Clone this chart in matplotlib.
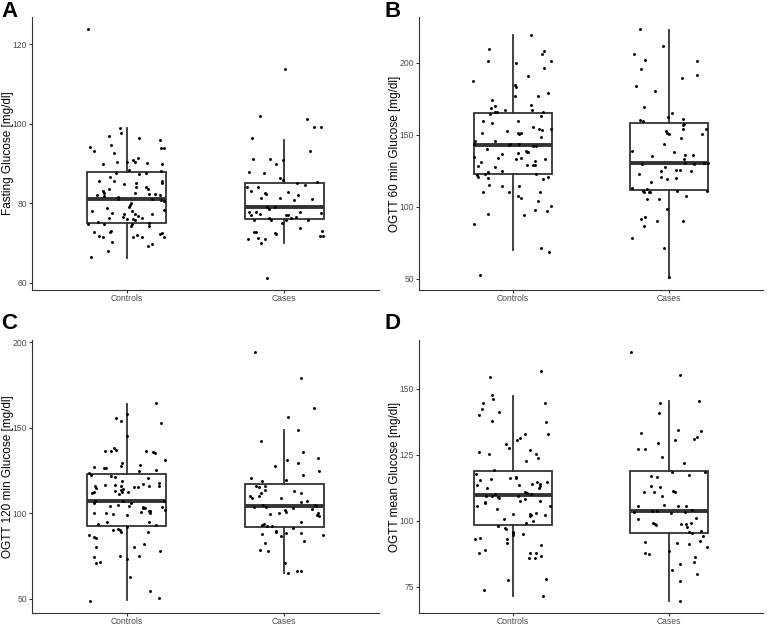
import matplotlib
matplotlib.use("Agg")
import matplotlib.pyplot as plt
import numpy as np

groups = ["Controls", "Cases"]

# ---------- Panel A: Fasting Glucose ----------
a_ctrl_val = [123.8,94.3,93.3,99.0,97.8,96.9,94.8,92.7,90.3,89.9,96.4,96.0,94.0,94.0,91.0,90.4,91.3,90.3,90.1,89.8,
              88.3,87.4,87.7,88.2,87.6,86.7,85.7,85.7,85.7,85.0,84.8,85.1,84.2,84.0,83.7,83.7,83.1,82.5,82.6,82.3,
              82.3,82.0,82.0,81.9,81.5,81.1,81.1,80.8,80.6,80.0,79.6,79.2,78.9,78.1,78.3,78.0,77.5,77.4,77.2,77.3,
              76.6,76.8,76.2,76.0,76.0,75.8,76.4,75.3,74.9,74.8,74.9,75.1,74.2,74.2,72.8,72.8,73.0,72.5,72.3,71.8,
              71.6,71.4,71.9,71.4,71.4,70.3,69.3,69.7,67.9,66.4]
a_ctrl_jit = [-0.245,-0.23,-0.205,-0.04,-0.034,-0.114,-0.10,-0.08,-0.06,-0.15,0.08,0.21,0.215,0.24,0.04,0.055,0.07,0.004,0.13,0.226,
              0.013,0.076,0.12,0.22,-0.07,-0.105,-0.078,-0.173,0.226,0.224,-0.017,0.06,0.06,0.12,0.137,-0.114,-0.15,-0.144,0.055,0.14,
              0.18,0.21,-0.19,-0.146,-0.053,-0.053,0.158,0.22,0.236,0.03,0.02,0.017,-0.127,-0.217,0.24,0.036,-0.095,-0.017,0.055,0.16,
              -0.023,0.074,-0.112,0.0,0.042,0.05,0.1,-0.18,-0.146,-0.245,0.034,0.14,0.025,0.14,-0.205,-0.105,-0.097,0.224,0.21,-0.177,
              -0.15,0.042,0.068,0.097,0.24,-0.093,0.133,0.16,-0.118,-0.228]
a_case_val = [113.8,102.1,101.2,99.3,99.3,96.4,93.3,91.1,91.1,90.9,89.9,88.0,87.7,86.4,85.9,85.2,85.3,84.7,84.0,84.2,
              83.0,82.9,82.5,82.3,82.0,81.3,81.3,80.8,81.0,79.1,79.1,78.5,77.8,77.9,77.1,77.4,77.1,77.0,77.7,77.6,
              76.5,76.3,76.2,75.8,75.9,75.9,75.1,75.8,73.8,72.8,72.8,72.6,72.3,73.1,71.7,71.8,71.0,71.2,71.0,70.0,61.3]
a_case_jit = [0.002,-0.156,0.146,0.186,0.23,-0.207,0.16,-0.2,-0.093,-0.008,-0.05,-0.226,-0.127,-0.03,-0.008,0.08,0.205,0.133,-0.236,-0.167,
              -0.209,0.02,-0.12,-0.116,0.084,-0.15,-0.025,0.06,0.177,-0.11,-0.06,-0.097,-0.226,-0.18,-0.21,-0.156,0.01,0.02,0.097,0.23,
              0.074,0.04,-0.097,-0.084,-0.19,0.013,-0.015,0.15,0.1,-0.19,-0.177,-0.06,-0.055,0.24,0.224,0.247,-0.23,-0.17,-0.12,-0.15,-0.11]
a_box = [dict(q1=75.1, med=81.0, q3=88.0, whislo=66.2, whishi=99.0),
         dict(q1=76.0, med=79.1, q3=85.0, whislo=70.1, whishi=96.0)]

# ---------- Panel B: OGTT 60 min ----------
b_ctrl_val = [52.3,87.7,94.6,71.3,68.7,187.5,209.5,201.2,219.4,208.3,205.8,200.9,196.1,199.5,190.5,184.3,183.1,179.2,177.1,177.1,
              174.3,170.9,169.7,168.8,167.2,167.0,164.4,165.6,165.6,165.8,163.0,159.8,159.8,158.2,155.4,154.2,153.1,154.0,152.6,151.2,
              151.2,151.2,150.3,148.2,145.7,145.9,143.8,143.8,143.1,143.4,142.0,142.0,140.1,138.3,137.6,137.6,136.9,136.4,134.1,134.4,
              134.1,133.2,133.0,131.8,130.7,128.4,127.2,128.8,128.8,128.6,124.9,124.0,123.0,123.0,122.3,120.7,120.7,119.8,119.1,114.3,
              114.0,114.7,110.3,109.9,109.9,107.3,105.9,103.9,100.2,97.4,97.2,94.2]
b_ctrl_jit = [-0.21,-0.25,-0.156,0.18,0.233,-0.254,-0.152,-0.159,0.114,0.2,0.186,0.243,0.197,0.023,0.095,0.017,0.023,0.226,0.013,0.159,
              -0.135,0.118,-0.116,-0.142,0.125,-0.047,-0.148,-0.114,-0.1,0.195,0.178,-0.19,0.032,-0.131,0.127,0.17,0.186,0.247,-0.036,-0.197,
              0.032,0.055,0.042,0.18,-0.243,-0.112,-0.25,-0.015,-0.023,0.042,0.131,0.146,-0.163,0.085,0.091,0.095,0.03,-0.066,-0.097,-0.25,
              0.055,0.021,0.203,0.14,-0.205,-0.224,-0.112,0.093,0.127,0.142,-0.066,-0.161,-0.175,0.146,-0.228,-0.22,0.224,-0.159,0.195,-0.068,
              0.042,-0.154,-0.19,-0.025,0.173,0.032,0.055,0.159,0.247,0.142,0.218,0.07]
b_case_val = [223.1,211.6,206.2,202.1,201.2,195.8,191.4,189.6,184.1,180.1,169.3,165.3,162.1,160.5,159.6,161.2,157.2,156.6,154.0,154.2,
              152.2,151.0,150.1,150.5,147.5,143.8,138.1,138.5,136.2,135.8,135.3,133.0,130.2,130.2,130.2,129.3,127.7,129.5,124.9,125.1,
              125.4,124.7,122.6,120.7,119.3,119.8,117.3,113.1,112.2,110.8,110.3,109.9,110.3,110.6,111.0,107.3,105.0,105.2,98.5,91.6,
              92.5,89.8,90.2,86.8,78.4,71.0,51.4]
b_case_jit = [-0.184,-0.038,-0.228,-0.154,0.18,-0.182,0.175,0.085,-0.215,-0.09,-0.158,0.02,-0.006,-0.186,-0.165,0.087,0.095,0.091,0.089,0.237,
              -0.021,-0.011,0.002,0.211,0.074,-0.036,0.03,-0.235,0.104,0.154,-0.112,0.093,0.224,0.247,0.102,-0.176,-0.027,0.156,-0.053,0.042,
              0.07,0.142,-0.19,-0.053,-0.011,0.044,-0.116,-0.235,-0.142,-0.169,-0.163,-0.131,-0.125,0.243,0.053,0.106,-0.144,-0.066,-0.011,-0.18,
              -0.154,-0.076,0.091,-0.161,-0.237,-0.032,-0.002]
b_box = [dict(q1=123.0, med=142.7, q3=165.3, whislo=69.7, whishi=219.0),
         dict(q1=111.3, med=130.2, q3=158.2, whislo=50.7, whishi=222.9)]

# ---------- Panel C: OGTT 120 min ----------
c_ctrl_val = [49.0,50.8,54.7,62.8,73.4,75.1,75.1,78.0,71.2,71.6,74.3,80.2,80.2,82.3,87.4,86.4,85.3,89.0,90.1,91.1,
              90.1,89.1,91.9,93.2,94.0,94.8,95.2,100.1,100.1,99.5,98.9,100.8,100.1,101.4,101.4,101.8,103.2,103.2,103.6,103.8,
              104.0,105.1,104.5,106.1,106.9,106.1,106.9,107.1,111.6,112.3,112.3,112.3,113.3,114.3,113.7,111.0,114.9,115.1,115.3,116.0,
              116.4,116.8,116.2,117.2,117.8,116.2,116.2,118.6,120.9,121.7,121.3,123.8,122.1,124.8,125.2,126.9,126.7,126.7,128.1,129.5,
              127.9,131.4,136.3,136.3,138.0,136.9,136.3,135.7,135.1,144.9,152.7,155.8,154.0,157.9,164.2]
c_ctrl_jit = [-0.232,0.203,0.146,0.019,0.0,-0.044,0.078,0.213,-0.196,-0.169,-0.205,-0.192,0.046,0.112,-0.24,-0.207,-0.196,0.133,-0.086,-0.055,
              -0.042,-0.038,0.0,0.186,-0.181,0.141,-0.122,-0.205,-0.131,-0.084,0.002,0.091,0.146,0.141,0.148,0.243,0.101,0.116,0.105,0.226,
              -0.105,-0.055,0.015,0.03,-0.203,-0.209,-0.021,0.238,-0.217,-0.207,-0.027,0.008,-0.074,-0.023,-0.034,-0.046,-0.194,0.049,0.074,-0.198,
              -0.137,-0.072,-0.038,0.103,0.207,0.203,0.141,-0.029,0.133,-0.101,-0.072,-0.24,-0.228,0.076,0.186,-0.207,-0.143,-0.131,0.084,-0.032,
              -0.038,0.243,-0.137,-0.101,-0.078,-0.065,0.124,0.167,0.179,0.004,0.215,-0.07,-0.038,0.002,0.184]
c_case_val = [194.0,178.8,161.8,156.2,148.8,142.3,135.9,132.4,131.2,129.5,127.5,124.8,122.1,120.9,119.5,119.0,116.0,116.0,115.4,113.9,
              113.3,111.6,111.6,110.0,109.2,110.0,109.0,107.3,106.7,105.1,104.3,104.7,103.8,103.8,103.0,102.6,102.2,100.8,100.4,100.4,
              99.1,98.3,99.3,95.2,94.0,93.4,92.5,92.3,91.5,89.9,89.0,88.6,88.2,88.0,87.6,86.6,84.1,82.7,78.8,78.0,
              71.0,65.2,66.0,66.0]
c_case_jit = [-0.186,0.108,0.186,0.021,0.086,-0.15,0.116,0.215,0.017,0.089,-0.057,0.222,0.12,-0.209,0.013,-0.142,-0.181,-0.12,-0.16,-0.124,
              0.063,0.103,-0.15,-0.217,-0.205,-0.16,-0.019,0.141,0.108,0.194,0.2,-0.137,-0.116,-0.194,0.053,0.175,0.004,0.011,0.213,-0.032,
              0.207,0.22,-0.093,0.108,-0.13,-0.143,-0.107,-0.078,0.057,-0.055,-0.051,0.011,0.105,-0.139,0.247,-0.019,0.127,-0.124,-0.156,-0.105,
              0.002,0.021,0.082,0.108]
c_box = [dict(q1=92.3, med=107.1, q3=122.7, whislo=49.4, whishi=163.8),
         dict(q1=91.9, med=104.0, q3=117.0, whislo=65.2, whishi=148.8)]

# ---------- Panel D: OGTT mean ----------
d_ctrl_val = [154.3,156.6,147.6,146.3,144.6,142.2,144.6,141.1,140.0,137.9,137.5,132.9,132.8,131.3,130.7,128.9,127.6,126.7,126.0,125.3,
              125.2,123.7,122.6,119.3,117.8,116.6,116.2,116.0,115.5,115.7,114.6,114.5,114.0,114.0,113.5,113.6,113.2,112.4,112.3,110.2,
              110.8,110.4,110.3,109.5,109.5,109.1,108.6,109.4,108.3,107.6,107.3,106.8,107.0,105.5,105.5,104.6,103.1,102.7,102.7,102.2,
              102.1,101.6,100.6,99.7,99.3,98.1,97.1,96.8,95.7,95.2,94.7,94.9,93.0,93.3,93.2,91.7,90.9,88.7,87.7,87.9,
              87.7,86.0,86.0,86.6,77.5,77.8,73.6,71.3]
d_ctrl_jit = [-0.144,0.182,-0.133,-0.125,-0.19,-0.197,0.205,-0.089,-0.216,-0.135,0.211,0.224,0.078,0.047,0.027,-0.042,-0.025,0.108,-0.214,-0.152,
              0.148,0.159,0.087,-0.121,-0.233,0.019,0.021,-0.015,-0.209,-0.142,0.22,0.154,0.121,0.175,-0.226,0.042,0.171,-0.165,0.167,-0.112,
              0.08,0.089,0.118,-0.173,-0.135,-0.095,-0.087,0.03,0.076,0.044,0.171,-0.18,-0.175,-0.23,0.237,-0.104,0.148,-0.002,0.11,0.118,
              0.203,0.112,-0.055,0.131,0.085,-0.093,-0.047,-0.044,0.002,0.004,0.002,0.066,-0.243,-0.207,-0.038,-0.036,0.182,-0.18,-0.214,0.108,
              0.146,0.101,0.144,0.178,-0.032,0.214,-0.182,0.19]
d_case_val = [163.8,155.3,144.6,145.3,140.8,134.3,133.9,133.3,131.9,130.8,130.5,129.4,127.0,127.2,124.1,121.7,118.5,118.6,117.5,116.9,
              116.4,113.1,112.8,111.0,110.8,111.2,111.0,109.5,106.1,105.6,105.6,105.6,103.3,103.6,103.6,102.8,103.2,104.0,101.2,100.8,
              99.3,98.9,98.5,98.9,98.9,99.2,95.6,95.4,96.0,97.5,94.2,92.3,92.0,91.4,91.2,89.9,88.4,87.8,87.4,86.4,
              84.2,83.7,81.2,79.6,77.3,69.7]
d_case_jit = [-0.245,0.07,-0.061,0.188,-0.068,0.057,0.205,-0.182,0.178,0.159,0.038,-0.07,-0.197,-0.156,-0.044,0.095,0.228,0.015,0.125,-0.114,
              -0.078,-0.116,-0.057,-0.161,-0.095,0.025,0.036,-0.049,-0.034,-0.201,0.055,0.11,-0.226,-0.11,-0.076,0.011,0.099,0.144,0.173,-0.201,
              -0.106,-0.089,-0.085,0.074,0.106,0.137,0.129,0.146,0.201,0.114,0.214,0.197,-0.152,0.049,0.129,0.245,0.0,-0.154,-0.131,0.163,
              0.156,0.072,0.017,0.175,0.068,0.066]
d_box = [dict(q1=98.5, med=109.7, q3=118.9, whislo=71.3, whishi=147.3),
         dict(q1=95.2, med=103.6, q3=118.9, whislo=69.7, whishi=145.2)]

panels = [
    ("A", "Fasting Glucose [mg/dl]", a_ctrl_val, a_ctrl_jit, a_case_val, a_case_jit, a_box, [60, 80, 100, 120]),
    ("B", "OGTT 60 min Glucose [mg/dl]", b_ctrl_val, b_ctrl_jit, b_case_val, b_case_jit, b_box, [50, 100, 150, 200]),
    ("C", "OGTT 120 min Glucose [mg/dl]", c_ctrl_val, c_ctrl_jit, c_case_val, c_case_jit, c_box, [50, 100, 150, 200]),
    ("D", "OGTT mean Glucose [mg/dl]", d_ctrl_val, d_ctrl_jit, d_case_val, d_case_jit, d_box, [75, 100, 125, 150]),
]

plt.rcParams['font.family'] = ['Liberation Sans', 'DejaVu Sans']

W, H = 768, 625
fig = plt.figure(figsize=(W / 100, H / 100), dpi=100)

# axes rectangles in pixels: left, top, right, bottom
rects = [(32, 17, 379, 290), (419, 17, 763, 290), (32, 340, 379, 613), (419, 340, 763, 613)]
letter_pos = [(1, 1), (385, 1), (1, 313), (385, 313)]

line_col = "#333333"
for (letter, ylab, cv, cj, sv, sj, box, yt), (l, t, r, b), (lx, ly) in zip(panels, rects, letter_pos):
    ax = fig.add_axes([l / W, 1 - b / H, (r - l) / W, (b - t) / H])
    stats = []
    for g, s in zip(groups, box):
        d = dict(s)
        d["label"] = g
        d["fliers"] = []
        stats.append(d)
    ax.bxp(stats, positions=[1, 2], widths=0.5, showcaps=False, showfliers=False,
           patch_artist=True,
           boxprops=dict(facecolor="white", edgecolor=line_col, linewidth=1.3),
           whiskerprops=dict(color=line_col, linewidth=1.3),
           medianprops=dict(color=line_col, linewidth=2.8, solid_capstyle="butt"),
           zorder=2)
    ax.scatter(1 + np.array(cj), cv, s=4.5, color="black", zorder=3, linewidths=0)
    ax.scatter(2 + np.array(sj), sv, s=4.5, color="black", zorder=3, linewidths=0)
    allv = cv + sv + [s["whislo"] for s in box] + [s["whishi"] for s in box]
    lo, hi = min(allv), max(allv)
    pad = (hi - lo) * 0.05
    ax.set_ylim(lo - pad, hi + pad)
    ax.set_xlim(0.4, 2.6)
    ax.set_xticks([1, 2])
    ax.set_xticklabels(groups)
    ax.set_yticks(yt)
    ax.set_ylabel(ylab, fontsize=8.5, color="black")
    ax.yaxis.set_label_coords(-18.0 / (r - l), 0.5)
    for sp in ["top", "right"]:
        ax.spines[sp].set_visible(False)
    for sp in ["left", "bottom"]:
        ax.spines[sp].set_color(line_col)
        ax.spines[sp].set_linewidth(0.8)
    ax.tick_params(axis="both", labelsize=6.2, labelcolor="#4D4D4D", color=line_col,
                   length=2, width=0.8, pad=1.5)
    ax.tick_params(axis="x", pad=1.0)
    fig.text(lx / W, 1 - ly / H, letter, fontsize=16, fontweight="bold", ha="left", va="top")

fig.savefig("out.png", dpi=100)
